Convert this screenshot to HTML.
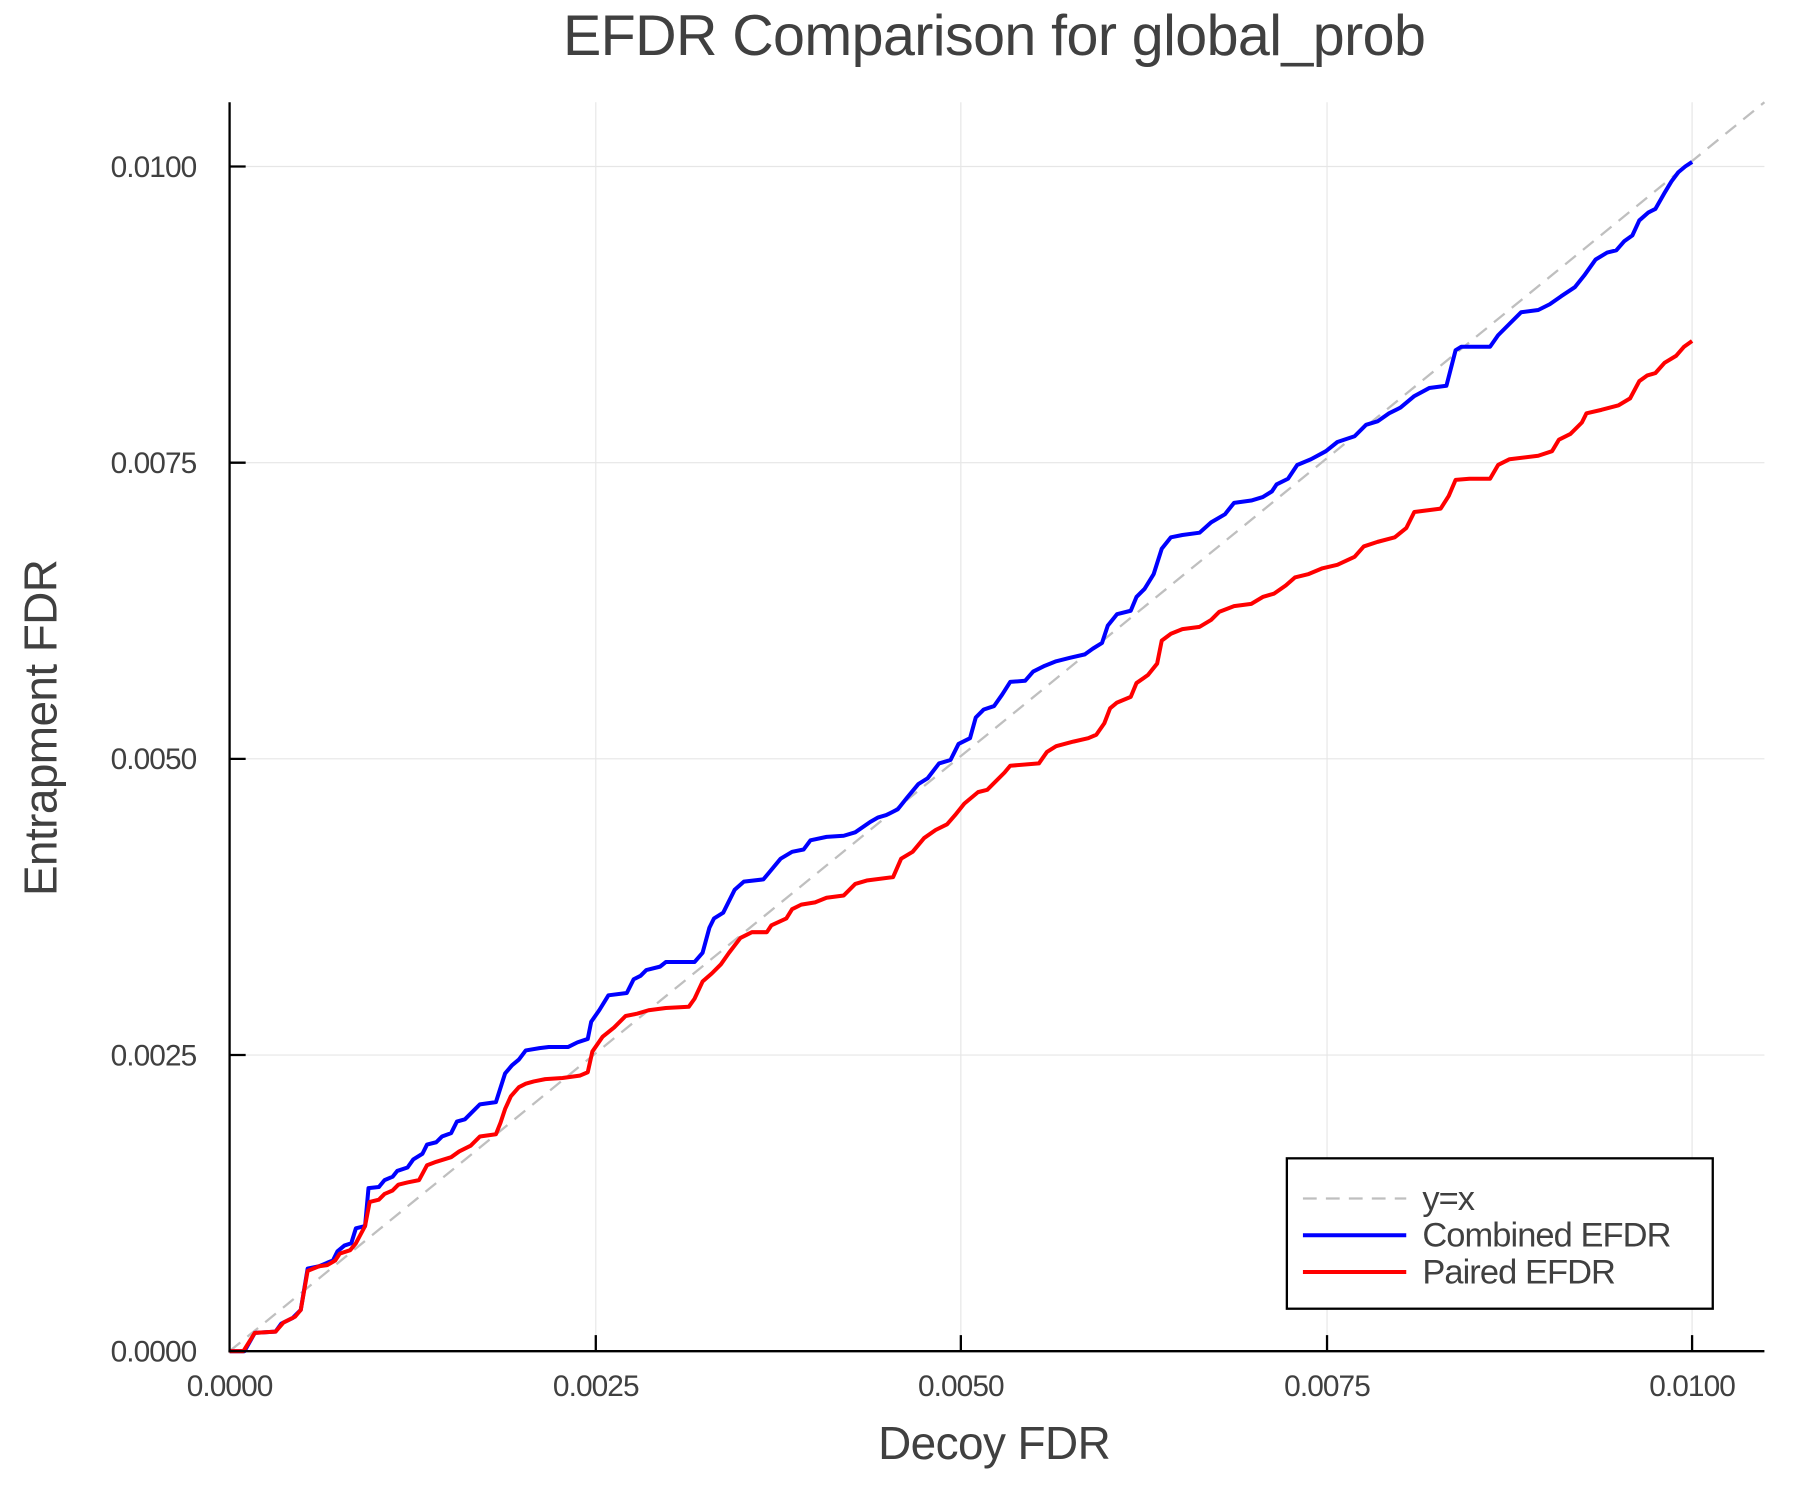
<!DOCTYPE html>
<html><head><meta charset="utf-8"><style>html,body{margin:0;padding:0;background:#fff}svg{display:block}</style></head><body>
<svg width="1800" height="1500" viewBox="0 0 1568 1306.6" xmlns="http://www.w3.org/2000/svg" font-family="Liberation Sans, sans-serif" fill="#404040">
<g stroke="#e6e6e6" stroke-width="1">
<line x1="519" y1="89" x2="519" y2="1177"/><line x1="837" y1="89" x2="837" y2="1177"/><line x1="1156" y1="89" x2="1156" y2="1177"/><line x1="1474" y1="89" x2="1474" y2="1177"/>
<line x1="200" y1="919" x2="1537" y2="919"/><line x1="200" y1="661" x2="1537" y2="661"/><line x1="200" y1="403" x2="1537" y2="403"/><line x1="200" y1="145" x2="1537" y2="145"/>
</g>
<line x1="200" y1="1177" x2="1537" y2="89" stroke="#bfbfbf" stroke-width="2" stroke-dasharray="12,8"/>
<polyline fill="none" stroke="#0000ff" stroke-width="3.5" stroke-linejoin="round" points="200,1177 213,1177 222,1161 240,1160 245,1153 255,1148 262,1141 268,1105 278,1103 285,1100 290,1098 294,1090 300,1085 306,1083 310,1070 318,1068 321,1035 330,1034 335,1028 342,1025 346,1020 355,1017 360,1010 368,1005 372,997 380,995 385,990 393,987 398,977 405,975 410,970 418,962 432,960 440,935 446,928 452,923 458,915 470,913 478,912 495,912 503,908 512,905 515,890 522,880 530,867 546,865 552,853 558,850 563,845 575,842 580,838 605,838 612,830 618,808 622,800 630,795 640,775 648,768 665,766 670,760 680,748 690,742 700,740 706,732 720,729 735,728 745,725 758,716 765,712 772,710 782,705 790,695 800,683 808,678 818,665 828,662 835,648 845,643 850,625 857,618 866,615 873,605 880,594 893,593 900,585 910,580 920,576 932,573 945,570 952,565 960,560 965,545 973,535 985,532 990,520 997,513 1005,500 1012,478 1020,468 1030,466 1045,464 1055,455 1067,448 1075,438 1090,436 1100,433 1108,428 1112,422 1122,417 1130,405 1142,400 1155,393 1165,385 1180,380 1190,370 1200,367 1210,360 1220,355 1232,345 1245,338 1260,336 1268,305 1273,302 1298,302 1305,292 1315,282 1325,272 1340,270 1350,265 1360,258 1372,250 1380,240 1390,226 1400,220 1408,218 1415,210 1422,205 1428,192 1436,185 1442,182 1450,168 1456,158 1462,150 1468,145 1474,141"/>
<polyline fill="none" stroke="#ff0000" stroke-width="3.5" stroke-linejoin="round" points="200,1177 212,1177 222,1161 240,1160 247,1152 257,1147 262,1141 268,1107 278,1103 285,1102 292,1098 296,1092 305,1089 310,1083 318,1068 322,1047 330,1045 335,1040 342,1037 347,1032 355,1030 365,1028 372,1015 380,1012 393,1008 400,1003 410,998 418,990 432,988 436,978 440,966 445,955 452,947 458,944 465,942 475,940 490,939 505,937 512,934 516,916 525,903 535,895 545,885 555,883 565,880 580,878 600,877 605,870 612,855 620,848 628,840 635,830 645,817 655,812 668,812 672,806 685,800 690,792 698,788 710,786 720,782 735,780 745,770 755,767 778,764 785,748 795,742 805,730 815,723 825,718 832,710 840,700 852,690 860,688 875,673 880,667 905,665 912,655 920,650 935,646 948,643 955,640 962,630 967,617 973,612 985,607 990,595 1000,588 1008,578 1012,558 1020,552 1030,548 1045,546 1055,540 1062,533 1075,528 1090,526 1100,520 1110,517 1120,510 1128,503 1140,500 1152,495 1165,492 1180,485 1188,476 1200,472 1215,468 1225,460 1232,446 1255,443 1262,432 1268,418 1280,417 1298,417 1305,405 1315,400 1340,397 1352,393 1358,383 1368,378 1378,368 1382,360 1395,357 1410,353 1420,347 1428,332 1435,327 1442,325 1450,316 1460,310 1467,302 1474,297"/>
<g stroke="#000" stroke-width="2">
<line x1="200" y1="89" x2="200" y2="1178"/><line x1="199" y1="1177" x2="1537" y2="1177"/>
<line x1="519" y1="1177" x2="519" y2="1163"/><line x1="837" y1="1177" x2="837" y2="1163"/><line x1="1156" y1="1177" x2="1156" y2="1163"/><line x1="1474" y1="1177" x2="1474" y2="1163"/>
<line x1="200" y1="919" x2="214" y2="919"/><line x1="200" y1="661" x2="214" y2="661"/><line x1="200" y1="403" x2="214" y2="403"/><line x1="200" y1="145" x2="214" y2="145"/>
</g>
<g font-size="26" letter-spacing="-0.8" text-anchor="end">
<text x="171" y="1186">0.0000</text><text x="171" y="928">0.0025</text><text x="171" y="670">0.0050</text><text x="171" y="412">0.0075</text><text x="171" y="154">0.0100</text>
</g>
<g font-size="26" letter-spacing="-0.8" text-anchor="middle">
<text x="200" y="1216">0.0000</text><text x="519" y="1216">0.0025</text><text x="837" y="1216">0.0050</text><text x="1156" y="1216">0.0075</text><text x="1474" y="1216">0.0100</text>
</g>
<text x="866" y="48" font-size="50" letter-spacing="-0.5" text-anchor="middle">EFDR Comparison for global_prob</text>
<text x="866" y="1271" font-size="40" letter-spacing="-0.5" text-anchor="middle">Decoy FDR</text>
<text transform="translate(49,634) rotate(-90)" font-size="40" letter-spacing="-0.5" text-anchor="middle">Entrapment FDR</text>
<rect x="1121" y="1009" width="371" height="131" fill="#fff" stroke="#000" stroke-width="2"/>
<line x1="1135" y1="1044" x2="1225" y2="1044" stroke="#bfbfbf" stroke-width="2" stroke-dasharray="12,8"/>
<line x1="1135" y1="1076" x2="1225" y2="1076" stroke="#0000ff" stroke-width="3.5"/>
<line x1="1135" y1="1108" x2="1225" y2="1108" stroke="#ff0000" stroke-width="3.5"/>
<g font-size="30" letter-spacing="-0.8"><text x="1239" y="1054">y=x</text><text x="1239" y="1086">Combined EFDR</text><text x="1239" y="1118">Paired EFDR</text></g>
</svg>
</body></html>
